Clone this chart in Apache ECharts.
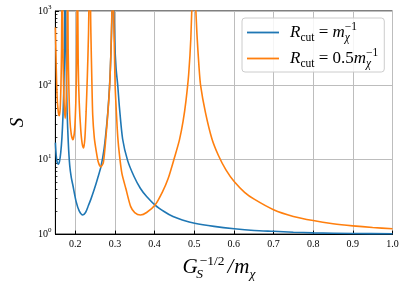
<!DOCTYPE html>
<html><head><meta charset="utf-8">
<script src="https://cdn.jsdelivr.net/npm/echarts@6/dist/echarts.min.js"></script>
<style>html,body{margin:0;padding:0;background:#fff}#c{width:407px;height:286px}</style>
</head><body><div id="c"></div>
<script>
// Blue: R_cut = m_chi^-1
const blueX = [0.1500,0.1520,0.1545,0.1574,0.1605,0.1635,0.1665,0.1690,0.1712,0.1728,0.1740,0.1748,0.1758,0.1772,0.1795,0.1825,0.1861,0.1900,0.1942,0.2023,0.2100,0.2188,0.2260,0.2330,0.2400,0.2480,0.2564,0.2647,0.2728,0.2800,0.2845,0.2880,0.2910,0.2935,0.2950,0.2970,0.2995,0.3030,0.3072,0.3114,0.3195,0.3320,0.3480,0.3645,0.3800,0.4013,0.4250,0.4465,0.4700,0.5010,0.5500,0.6010,0.6510,0.7000,0.7500,0.8000,0.9000,1.0000];
const blueY = [17,11.5,9.2,8.7,9.6,12.5,20,38,90,280,1500,6000,1200,200,45,17,8.4,5.8,4.5,2.73,2.05,1.81,1.95,2.4,3.0,4.0,5.6,8.0,14,32,65,140,400,1500,8000,1500,400,170,100,51,19,9.8,6.0,4.1,3.2,2.46,2.0,1.72,1.55,1.40,1.27,1.18,1.12,1.09,1.06,1.04,1.02,1.01];
// Orange: R_cut = 0.5 m_chi^-1
const orangeX = [0.1500,0.1515,0.1530,0.1550,0.1575,0.1598,0.1620,0.1640,0.1655,0.1672,0.1690,0.1708,0.1725,0.1745,0.1765,0.1782,0.1795,0.1808,0.1822,0.1840,0.1865,0.1900,0.1942,0.1985,0.2015,0.2035,0.2055,0.2075,0.2100,0.2140,0.2175,0.2212,0.2245,0.2275,0.2305,0.2335,0.2365,0.2395,0.2420,0.2441,0.2480,0.2525,0.2581,0.2647,0.2711,0.2770,0.2827,0.2869,0.2900,0.2925,0.2945,0.2968,0.2990,0.3006,0.3031,0.3073,0.3120,0.3178,0.3276,0.3399,0.3500,0.3645,0.3800,0.4013,0.4200,0.4343,0.4505,0.4628,0.4720,0.4792,0.4860,0.4915,0.4960,0.4990,0.5020,0.5068,0.5120,0.5161,0.5284,0.5448,0.5611,0.5800,0.6013,0.6270,0.6512,0.7000,0.7500,0.8000,0.8500,0.9000,0.9500,1.0000];
const orangeY = [600,250,110,60,43,39,48,100,300,5000,300,90,50,36,48,100,300,5000,300,90,35,22,18.6,25,60,200,5000,200,60,25,16.5,14.4,20,45,130,500,5000,500,110,40,20,13.5,9.3,8.0,9.3,19,45,100,280,1000,8000,1000,250,100,51,20,11,6.5,4.1,2.34,1.95,1.81,1.95,2.46,3.7,5.58,10.8,18.5,33,62,140,430,2500,10000,2000,500,180,100,43,19,11.4,7.3,5.04,3.65,2.95,2.13,1.73,1.52,1.38,1.29,1.225,1.18];

const xTicks = [0.2,0.3,0.4,0.5,0.6,0.7,0.8,0.9,1.0];
const yTicks = [1,10,100,1000];
const yMinorTicks = [2,3,4,5,6,7,8,9,20,30,40,50,60,70,80,90,200,300,400,500,600,700,800,900];
const seriesNames = ['Rcut = m^-1', 'Rcut = 0.5m^-1'];
const legendLabels = {
  'Rcut = m^-1': '{g|}{r|R}{c|cut}{t| = }{r|m}{x|χ}{p|−1}',
  'Rcut = 0.5m^-1': '{g|}{r|R}{c|cut}{t| = 0.5}{r|m}{x|χ}{p|−1}'
};

const FONT = 'Liberation Serif';
const chart = echarts.init(document.getElementById('c'), null, {renderer:'canvas'});
const toPairs = (xs, ys) => xs.map((x, i) => [x, ys[i]]);

chart.setOption({
  animation: false,
  backgroundColor: '#fff',
  grid: {left: 46, right: 14.5, top: 11, bottom: 50, show: true, borderColor: '#000', borderWidth: 1, backgroundColor: '#fff'},
  legend: {
    data: seriesNames,
    icon: 'rect',
    orient: 'vertical', left: 242, top: 18,
    itemWidth: 32, itemHeight: 1.8, itemGap: 3,
    padding: [3, 6, 2, 5],
    backgroundColor: 'rgba(255,255,255,0.85)', borderColor: '#cccccc', borderWidth: 1, borderRadius: 3,
    formatter: name => legendLabels[name],
    textStyle: {
      fontFamily: FONT, color: '#000', fontSize: 17,
      rich: {
        g: {width: 6, fontSize: 17, lineHeight: 23},
        r: {fontFamily: FONT, fontStyle: 'italic', fontSize: 17, lineHeight: 23, color: '#000'},
        t: {fontFamily: FONT, fontSize: 17, lineHeight: 23, color: '#000'},
        c: {fontFamily: FONT, fontSize: 11.5, verticalAlign: 'bottom', lineHeight: 15, color: '#000'},
        x: {fontFamily: FONT, fontStyle: 'italic', fontSize: 11.5, verticalAlign: 'bottom', lineHeight: 15, width: 0, color: '#000'},
        p: {fontFamily: FONT, fontSize: 11.5, verticalAlign: 'top', lineHeight: 12, color: '#000'}
      }
    }
  },
  xAxis: {
    type: 'value', min: 0.15, max: 1.0,
    name: '{i|G}{s|S}{p|−1/2}{sl|/}{i|m}{x|χ}',
    nameLocation: 'middle', nameGap: 11,
    nameTextStyle: {
      fontFamily: FONT, color: '#000', padding: [0, 10, 0, 0],
      rich: {
        i: {fontFamily: FONT, fontStyle: 'italic', fontSize: 21, lineHeight: 27, color: '#000'},
        sl: {fontFamily: FONT, fontStyle: 'italic', fontSize: 21, lineHeight: 27, padding: [0, 1, 0, 3], color: '#000'},
        s: {fontFamily: FONT, fontStyle: 'italic', fontSize: 13.5, verticalAlign: 'bottom', lineHeight: 14, width: 0, padding: [0, 0, 0, 2], color: '#000'},
        p: {fontFamily: FONT, fontSize: 13.5, verticalAlign: 'top', lineHeight: 14, color: '#000'},
        x: {fontFamily: FONT, fontStyle: 'italic', fontSize: 13.5, verticalAlign: 'bottom', lineHeight: 14, color: '#000'}
      }
    },
    axisLine: {show: true, lineStyle: {color: '#000', width: 1}},
    axisTick: {show: true, inside: true, length: 3.5, customValues: xTicks, lineStyle: {color: '#000'}},
    axisLabel: {customValues: xTicks, formatter: v => v.toFixed(1), fontFamily: FONT, fontSize: 10, color: '#000', margin: 5},
    splitLine: {show: true, lineStyle: {color: '#bdbdbd', width: 1}}
  },
  yAxis: [{
    type: 'log', logBase: 10, min: 1, max: 1000,
    name: 'S', nameLocation: 'middle', nameGap: 22, nameRotate: 90,
    nameTextStyle: {fontFamily: FONT, fontStyle: 'italic', fontSize: 19, color: '#000'},
    axisLine: {show: true, lineStyle: {color: '#000', width: 1}},
    axisTick: {show: true, inside: true, length: 3.5, lineStyle: {color: '#000'}},
    axisLabel: {
      fontFamily: FONT, color: '#000', margin: 4,
      formatter: v => '{b|10}{s|' + Math.round(Math.log10(v)) + '}',
      rich: {
        b: {fontFamily: FONT, fontSize: 10, lineHeight: 14, color: '#000'},
        s: {fontFamily: FONT, fontSize: 7, verticalAlign: 'top', lineHeight: 8, color: '#000'}
      }
    },
    splitLine: {show: true, lineStyle: {color: '#bdbdbd', width: 1}}
  }, {
    type: 'log', logBase: 10, min: 1, max: 1000, position: 'left',
    axisLine: {show: false}, axisLabel: {show: false}, splitLine: {show: false},
    axisTick: {show: true, inside: true, length: 2, customValues: yMinorTicks, lineStyle: {color: '#000', width: 0.8}}
  }],
  series: [{
    name: seriesNames[0], type: 'line', yAxisIndex: 0,
    data: toPairs(blueX, blueY),
    symbol: 'none', showSymbol: false, clip: true, smooth: 0.25,
    lineStyle: {color: '#1f77b4', width: 1.6}, itemStyle: {color: '#1f77b4'}
  }, {
    name: seriesNames[1], type: 'line', yAxisIndex: 0,
    data: toPairs(orangeX, orangeY),
    symbol: 'none', showSymbol: false, clip: true, smooth: 0.25,
    lineStyle: {color: '#ff7f0e', width: 1.6}, itemStyle: {color: '#ff7f0e'}
  }]
});
</script></body></html>
